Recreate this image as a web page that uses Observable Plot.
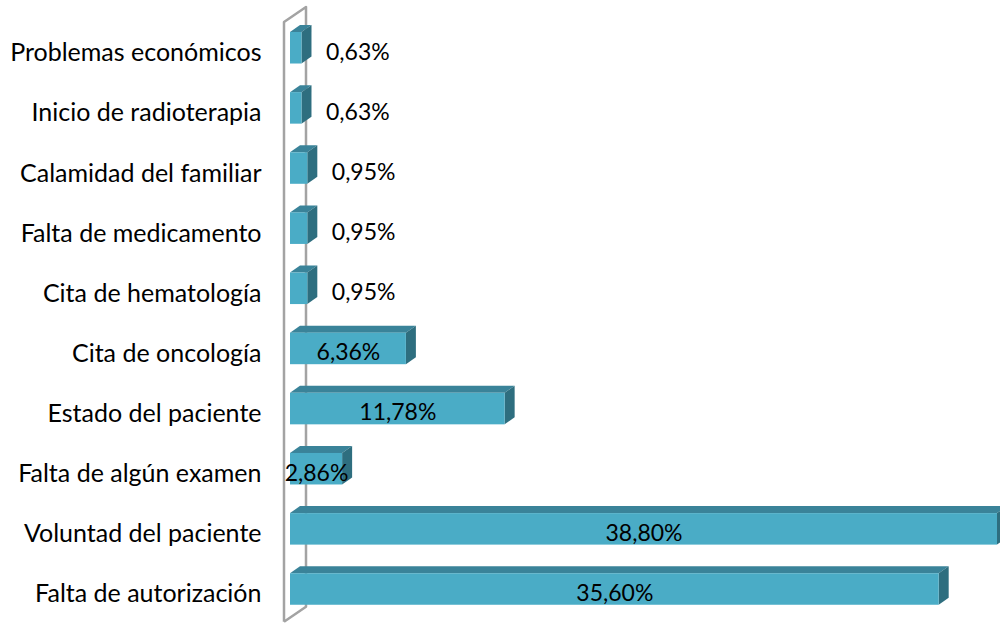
<!DOCTYPE html>
<html><head><meta charset="utf-8">
<script src="https://cdn.jsdelivr.net/npm/d3@7"></script>
<script src="https://cdn.jsdelivr.net/npm/@observablehq/plot@0.6"></script>
<style>body{margin:0;background:#fff}</style>
</head><body><div id="chart"></div>
<script>
const categories = ["Problemas económicos","Inicio de radioterapia","Calamidad del familiar","Falta de medicamento","Cita de hematología","Cita de oncología","Estado del paciente","Falta de algún examen","Voluntad del paciente","Falta de autorización"];
const values = [0.63, 0.63, 0.95, 0.95, 0.95, 6.36, 11.78, 2.86, 38.80, 35.60];
const valueLabels = ["0,63%","0,63%","0,95%","0,95%","0,95%","6,36%","11,78%","2,86%","38,80%","35,60%"];

const data = categories.map((c, i) => ({category: c, value: values[i], label: valueLabels[i]}));

const FRONT = "#4aacc6", TOP = "#3a8399", SIDE = "#2e6e7f", WALL = "#a3a3a3";
const DX = 10, DY = 7;

function depthFaces(index, scales) {
  const x = scales.x, y = scales.y, bw = y.bandwidth();
  const g = d3.create("svg:g");
  const x0 = x(0);
  const yTop = y(categories[0]), yBot = y(categories[categories.length - 1]) + bw;
  // wall
  const fx = x0 - 6, bx = x0 + 16, ft = yTop - 10, bt = yTop - 25, fb = yBot + 17, bb = yBot + 2;
  g.append("path")
    .attr("d", `M${fx},${fb}L${fx},${ft}L${bx},${bt}L${bx},${bb}L${fx},${fb}`)
    .attr("fill", "none").attr("stroke", WALL).attr("stroke-width", 2.5).attr("stroke-linejoin", "round");
  for (const d of data) {
    const xa = x0, xb = x(d.value), ya = y(d.category), yb = ya + bw;
    g.append("path").attr("fill", TOP)
      .attr("d", `M${xa},${ya}L${xa + DX},${ya - DY}L${xb + DX},${ya - DY}L${xb},${ya}Z`);
    g.append("path").attr("fill", SIDE)
      .attr("d", `M${xb},${ya}L${xb + DX},${ya - DY}L${xb + DX},${yb - DY}L${xb},${yb}Z`);
  }
  return g.node();
}

const chart = Plot.plot({
  width: 1000, height: 624,
  marginLeft: 270, marginRight: 3, marginTop: 32, marginBottom: 19,
  style: {fontFamily: "Lato", fontSize: "23px", color: "#000", background: "#fff"},
  x: {domain: [0, 38.8], range: [290, 997], axis: null},
  y: {domain: categories, range: [32, 604.75], paddingInner: 0.476, paddingOuter: 0, round: false, axis: null},
  marks: [
    depthFaces,
    Plot.barX(data, {x: "value", y: "category", fill: FRONT}),
    Plot.axisY({tickSize: 0, tickPadding: 9, dy: 5, fontSize: 25, fill: "#000", label: null}),
    Plot.text(data.filter(d => d.value >= 2), {x: d => d.value / 2, y: "category", text: "label", dy: 4, fontSize: 23, fill: "#000"}),
    Plot.text(data.filter(d => d.value < 2), {x: "value", y: "category", text: "label", textAnchor: "start", dx: 24, dy: 4, fontSize: 23, fill: "#000"})
  ]
});
document.getElementById("chart").appendChild(chart);
</script>
</body></html>
